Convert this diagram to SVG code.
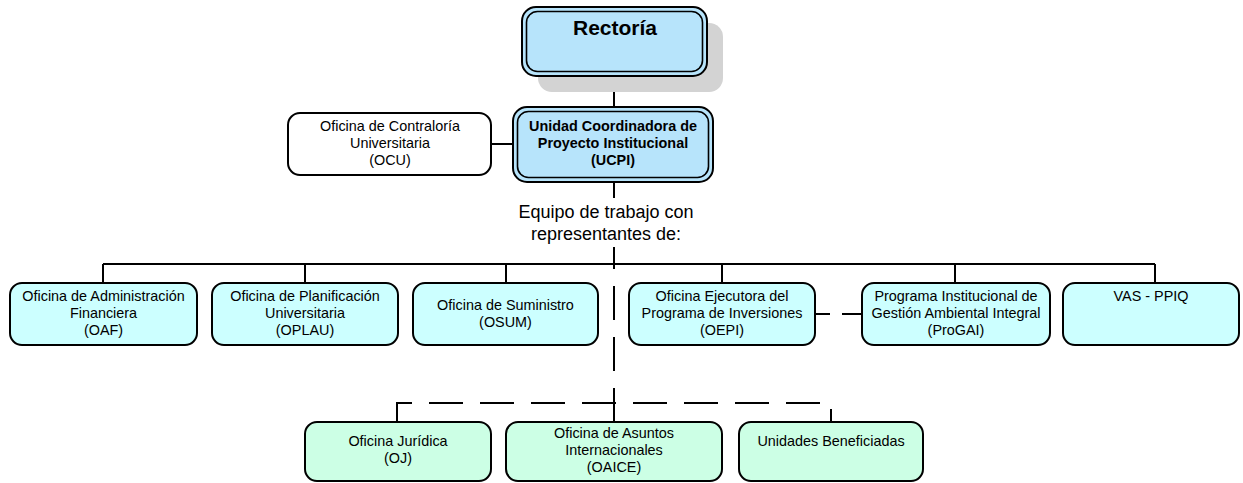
<svg xmlns="http://www.w3.org/2000/svg" width="1243" height="483" viewBox="0 0 1243 483">
  <style>
    text { font-family: "Liberation Sans", Arial, sans-serif; fill: #000; text-anchor: middle; }
    .t { font-size: 14.4px; }
    .tb { font-size: 14.4px; font-weight: bold; }
    .title { font-size: 21px; font-weight: bold; }
    .lbl { font-size: 18px; }
    .head { fill: #b7e4fb; stroke: #000; stroke-width: 2; }
    .inner { fill: none; stroke: #000; stroke-width: 1.6; }
    .white { fill: #fff; stroke: #000; stroke-width: 2; }
    .cyan { fill: #ccffff; stroke: #000; stroke-width: 2; }
    .mint { fill: #ccffe5; stroke: #000; stroke-width: 2; }
    .wire { fill: none; stroke: #000; stroke-width: 2; }
    .dash { fill: none; stroke: #000; stroke-width: 2; stroke-dasharray: 34 17; }
  </style>

  <!-- connectors -->
  <g id="connectors">
    <line class="wire" x1="614" y1="76" x2="614" y2="107"/>
    <line class="wire" x1="491" y1="144" x2="513" y2="144"/>
    <line class="wire" x1="614" y1="182" x2="614" y2="198"/>
    <line class="wire" x1="614" y1="247" x2="614" y2="264"/>
    <line class="wire" x1="103" y1="264" x2="1155" y2="264"/>
    <line class="wire" x1="103" y1="264" x2="103" y2="283"/>
    <line class="wire" x1="305" y1="264" x2="305" y2="283"/>
    <line class="wire" x1="506" y1="264" x2="506" y2="283"/>
    <line class="wire" x1="722" y1="264" x2="722" y2="283"/>
    <line class="wire" x1="955" y1="264" x2="955" y2="283"/>
    <line class="wire" x1="1155" y1="264" x2="1155" y2="283"/>
    <!-- dashed link down to the second team row -->
    <path class="dash" d="M614 422 V264"/>
    <path class="dash" d="M397 422 V403 H831 V422"/>
    <path class="wire" d="M815 314 H830 M842 314 H862"/>
  </g>

  <!-- Rectoría -->
  <g id="rectoria">
    <rect x="538" y="23" width="185" height="69" rx="14" fill="#d3d3d3"/>
    <rect class="head" x="522" y="7" width="185" height="69" rx="14"/>
    <rect class="inner" x="526.5" y="11.5" width="176" height="60" rx="11"/>
    <text class="title" x="615" y="35">Rectoría</text>
  </g>

  <!-- UCPI -->
  <g id="ucpi">
    <rect class="head" x="513" y="107" width="200" height="75" rx="14"/>
    <rect class="inner" x="517.5" y="111.5" width="191" height="66" rx="11"/>
    <text class="tb" x="613" y="131">Unidad Coordinadora de</text>
    <text class="tb" x="613" y="148">Proyecto Institucional</text>
    <text class="tb" x="613" y="165">(UCPI)</text>
  </g>

  <!-- OCU -->
  <g id="ocu">
    <rect class="white" x="288" y="113" width="203" height="62" rx="12"/>
    <text class="t" x="390" y="131">Oficina de Contraloría</text>
    <text class="t" x="390" y="148">Universitaria</text>
    <text class="t" x="390" y="165">(OCU)</text>
  </g>

  <g id="equipo">
    <text class="lbl" x="606" y="218">Equipo de trabajo con</text>
    <text class="lbl" x="606" y="240">representantes de:</text>
  </g>

  <!-- first team row -->
  <g id="oaf">
    <rect class="cyan" x="10" y="283" width="187" height="62" rx="12"/>
    <text class="t" x="103.5" y="301">Oficina de Administración</text>
    <text class="t" x="103.5" y="318">Financiera</text>
    <text class="t" x="103.5" y="335">(OAF)</text>
  </g>
  <g id="oplau">
    <rect class="cyan" x="212" y="283" width="186" height="62" rx="12"/>
    <text class="t" x="305" y="301">Oficina de Planificación</text>
    <text class="t" x="305" y="318">Universitaria</text>
    <text class="t" x="305" y="335">(OPLAU)</text>
  </g>
  <g id="osum">
    <rect class="cyan" x="413" y="283" width="185" height="62" rx="12"/>
    <text class="t" x="505.5" y="310">Oficina de Suministro</text>
    <text class="t" x="505.5" y="327">(OSUM)</text>
  </g>
  <g id="oepi">
    <rect class="cyan" x="629" y="283" width="186" height="62" rx="12"/>
    <text class="t" x="722" y="301">Oficina Ejecutora del</text>
    <text class="t" x="722" y="318">Programa de Inversiones</text>
    <text class="t" x="722" y="335">(OEPI)</text>
  </g>
  <g id="progai">
    <rect class="cyan" x="862" y="283" width="188" height="62" rx="12"/>
    <text class="t" x="956" y="301">Programa Institucional de</text>
    <text class="t" x="956" y="318">Gestión Ambiental Integral</text>
    <text class="t" x="956" y="335">(ProGAI)</text>
  </g>
  <g id="vas">
    <rect class="cyan" x="1063" y="283" width="176" height="62" rx="12"/>
    <text class="t" x="1151" y="301">VAS - PPIQ</text>
  </g>

  <!-- second team row -->
  <g id="oj">
    <rect class="mint" x="305" y="422" width="186" height="59" rx="12"/>
    <text class="t" x="398" y="446">Oficina Jurídica</text>
    <text class="t" x="398" y="463">(OJ)</text>
  </g>
  <g id="oaice">
    <rect class="mint" x="506" y="422" width="216" height="59" rx="12"/>
    <text class="t" x="614" y="438">Oficina de Asuntos</text>
    <text class="t" x="614" y="455">Internacionales</text>
    <text class="t" x="614" y="472">(OAICE)</text>
  </g>
  <g id="unidades">
    <rect class="mint" x="739" y="422" width="184" height="59" rx="12"/>
    <text class="t" x="831" y="446">Unidades Beneficiadas</text>
  </g>
</svg>
